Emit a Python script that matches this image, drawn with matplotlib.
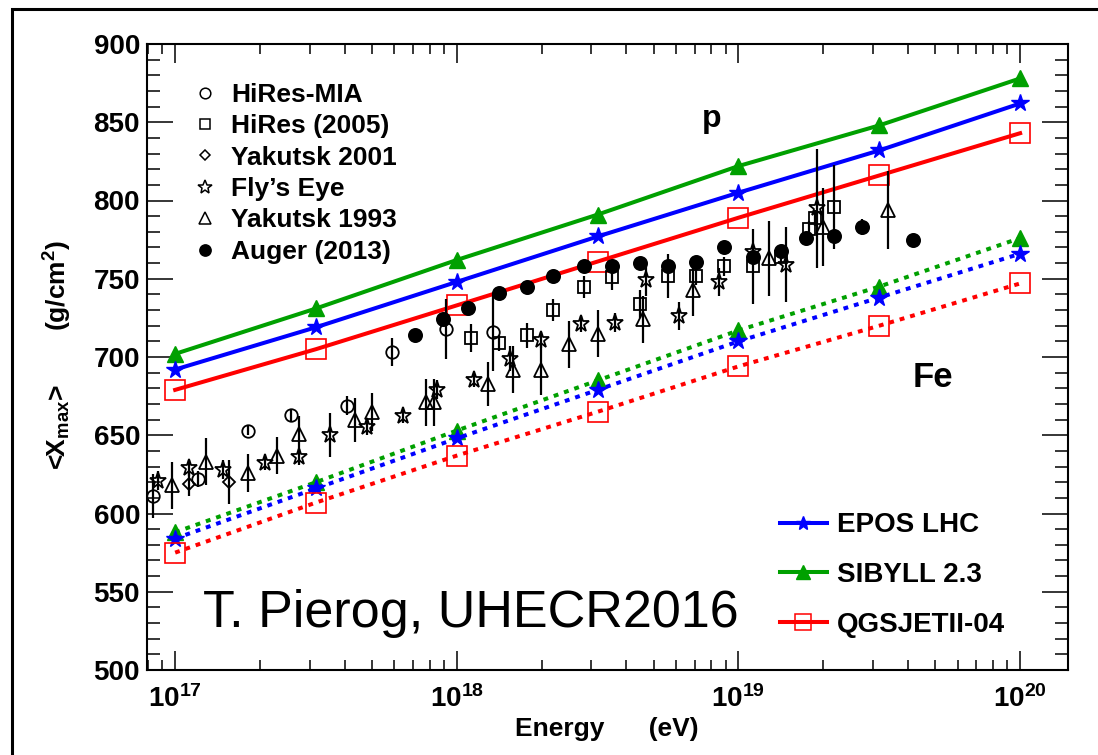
import matplotlib
matplotlib.use("Agg")
import matplotlib.pyplot as plt
import numpy as np
from matplotlib.lines import Line2D
from matplotlib.patches import Rectangle
from matplotlib.ticker import LogLocator, MultipleLocator, NullFormatter

plt.rcParams['font.family'] = ['Liberation Sans', 'DejaVu Sans']
plt.rcParams['mathtext.fontset'] = 'custom'
plt.rcParams['mathtext.rm'] = 'Liberation Sans'
plt.rcParams['mathtext.bf'] = 'Liberation Sans:bold'
plt.rcParams['mathtext.default'] = 'bf'

# model predictions, log10(E/eV)
model_lgE = [17.0, 17.5, 18.0, 18.5, 19.0, 19.5, 20.0]
epos_p = [692, 719, 748, 777, 805, 832, 862]
sibyll_p = [702, 731, 762, 791, 822, 848, 878]
qgsjet_p = [679, 705, 733, 761, 789, 816, 843]
epos_fe = [584, 616, 648, 679, 710, 738, 766]
sibyll_fe = [588, 620, 653, 685, 717, 745, 776]
qgsjet_fe = [575, 607, 637, 665, 694, 720, 747]

# measurements: log10(E/eV), <Xmax>, error
hiresmia_lgE = [16.92, 17.08, 17.26, 17.41, 17.61, 17.77, 17.96, 18.13]
hiresmia_x = [611, 622, 653, 663, 669, 703, 718, 716]
hiresmia_err = [14, 5, 3, 4, 6, 9, 19, 25]

hires_lgE = [18.05, 18.15, 18.25, 18.34, 18.45, 18.55, 18.65, 18.75, 18.85, 18.95,
             19.05, 19.15, 19.25, 19.27, 19.34]
hires_x = [712, 709, 714, 730, 745, 751, 734, 752, 752, 758, 758, 764, 782, 789, 796]
hires_err = [9, 5, 8, 7, 7, 8, 9, 14, 6, 6, 24, 4, 5, 5, 27]

yak01_lgE = [17.05, 17.19]
yak01_x = [619, 620]
yak01_err = [8, 14]

fly_lgE = [16.94, 17.05, 17.17, 17.32, 17.44, 17.55, 17.68, 17.81, 17.93, 18.06,
           18.19, 18.30, 18.44, 18.56, 18.67, 18.79, 18.93, 19.05, 19.17, 19.28]
fly_x = [621, 629, 628, 632, 636, 650, 655, 662, 679, 685,
         699, 711, 721, 722, 749, 726, 748, 767, 759, 795]
fly_err = [6, 5, 6, 4, 5, 14, 5, 4, 6, 4, 8, 5, 5, 6, 10, 9, 9, 4, 24, 38]

yak93_lgE = [16.99, 17.11, 17.26, 17.36, 17.44, 17.64, 17.70, 17.89, 17.92, 18.11,
             18.20, 18.30, 18.40, 18.50, 18.66, 18.84, 19.11, 19.30, 19.53]
yak93_x = [618, 633, 626, 637, 651, 660, 665, 671, 671, 683,
           692, 692, 708, 715, 724, 743, 763, 783, 794]
yak93_err = [15, 15, 12, 12, 11, 14, 12, 15, 15, 14, 15, 16, 15, 15, 15, 17, 24, 25, 25]

auger_lgE = [17.85, 17.95, 18.04, 18.15, 18.25, 18.34, 18.45, 18.55, 18.65, 18.75,
             18.85, 18.95, 19.05, 19.15, 19.24, 19.34, 19.44, 19.62]
auger_x = [714, 724, 731, 741, 745, 752, 758, 758, 760, 758,
           761, 770, 764, 768, 776, 777, 783, 775]
auger_err = [3, 3, 3, 3, 3, 3, 3, 3, 3, 3, 3, 3, 3, 3, 3, 3, 5, 3]

green = '#00a000'
blue = '#0000ff'
red = '#ff0000'

fig = plt.figure(figsize=(10.98, 7.55), dpi=100)
ax = fig.add_axes([147 / 1098, 1 - 670 / 755, 921 / 1098, 626 / 755])

E = 10 ** np.array(model_lgE)
lw = 2.9
dots = (0, (1.2, 1.5))
ax.plot(E, sibyll_p, color=green, lw=lw, marker='^', ms=11, mec=green, mfc=green)
ax.plot(E, epos_p, color=blue, lw=lw, marker='*', ms=13, mec=blue, mfc=blue)
ax.plot(E, qgsjet_p, color=red, lw=lw, marker='s', ms=15, mec=red, mfc='none', mew=1.2)
ax.plot(E, sibyll_fe, color=green, lw=lw, ls=dots, marker='^', ms=11, mec=green, mfc=green)
ax.plot(E, epos_fe, color=blue, lw=lw, ls=dots, marker='*', ms=13, mec=blue, mfc=blue)
ax.plot(E, qgsjet_fe, color=red, lw=lw, ls=dots, marker='s', ms=15, mec=red, mfc='none', mew=1.2)

data_sets = [
    (hiresmia_lgE, hiresmia_x, hiresmia_err, 'o', 'none', 9),
    (hires_lgE, hires_x, hires_err, 's', 'none', 9),
    (yak01_lgE, yak01_x, yak01_err, 'D', 'none', 6.5),
    (fly_lgE, fly_x, fly_err, '*', 'none', 12.5),
    (yak93_lgE, yak93_x, yak93_err, '^', 'none', 9.5),
    (auger_lgE, auger_x, auger_err, 'o', 'black', 9.5),
]
for lg, xm, er, mk, fc, ms in data_sets:
    ax.errorbar(10 ** np.array(lg), xm, yerr=er, fmt=mk, mfc=fc, mec='black', ms=ms,
                mew=1.3, ecolor='black', elinewidth=1.6, capsize=0, zorder=3)

ax.set_xscale('log')
ax.set_xlim(10 ** 16.9, 10 ** 20.17)
ax.set_ylim(500, 900)

ax.set_xticks([1e17, 1e18, 1e19, 1e20])
ax.set_xticklabels([r'$10^{17}$', r'$10^{18}$', r'$10^{19}$', r'$10^{20}$'])
ax.xaxis.set_minor_locator(LogLocator(base=10, subs=np.arange(2, 10), numticks=20))
ax.xaxis.set_minor_formatter(NullFormatter())
ax.yaxis.set_major_locator(MultipleLocator(50))
ax.yaxis.set_minor_locator(MultipleLocator(10))

ax.tick_params(axis='both', which='both', direction='in', top=True, right=True, width=1.1)
ax.tick_params(axis='x', which='major', length=14, pad=11, labelsize=20)
ax.tick_params(axis='x', which='minor', length=7)
ax.tick_params(axis='y', which='major', length=19, pad=5, labelsize=20)
ax.tick_params(axis='y', which='minor', length=9.5)
for lab in ax.get_xticklabels() + ax.get_yticklabels():
    lab.set_fontweight('bold')
for sp in ax.spines.values():
    sp.set_linewidth(1.5)

# data legend
data_handles = [Line2D([], [], ls='none', marker=mk, mfc=fc, mec='black', ms=ms * 0.85, mew=1.1)
                for _, _, _, mk, fc, ms in data_sets]
data_labels = ['HiRes-MIA', 'HiRes (2005)', 'Yakutsk 2001', "Fly\u2019s Eye", 'Yakutsk 1993', 'Auger (2013)']
leg1 = ax.legend(data_handles, data_labels, loc='upper left', bbox_to_anchor=(0.0516, 0.938),
                 frameon=False, borderpad=0, borderaxespad=0, handlelength=0.8,
                 handletextpad=0.6, labelspacing=0.28, prop={'size': 19, 'weight': 'bold'})
ax.add_artist(leg1)

model_handles = [
    Line2D([], [], color=blue, lw=lw, marker='*', ms=10, mec=blue, mfc=blue),
    Line2D([], [], color=green, lw=lw, marker='^', ms=10, mec=green, mfc=green),
    Line2D([], [], color=red, lw=lw, marker='s', ms=12, mec=red, mfc='none', mew=1.1),
]
ax.legend(model_handles, ['EPOS LHC', 'SIBYLL 2.3', 'QGSJETII-04'], loc='upper left',
          bbox_to_anchor=(0.687, 0.252), frameon=False, borderpad=0, borderaxespad=0,
          handlelength=1.69, handletextpad=0.36, labelspacing=0.86,
          prop={'size': 20, 'weight': 'bold'})

ax.text(0.6026, 0.867, 'p', transform=ax.transAxes, fontsize=23, fontweight='bold', va='baseline')
ax.text(0.8317, 0.452, 'Fe', transform=ax.transAxes, fontsize=25, fontweight='bold', va='baseline')
ax.text(0.0608, 0.0687, 'T. Pierog, UHECR2016', transform=ax.transAxes, fontsize=37.5, va='baseline')

fig.text(59 / 1098, 1 - 427 / 755, r'<X$_{max}$>', rotation=90, ha='center', va='center',
         fontsize=19, fontweight='bold')
fig.text(58 / 1098, 1 - 285 / 755, r'(g/cm$^{2}$)', rotation=90, ha='center', va='center',
         fontsize=19, fontweight='bold')
fig.text(607 / 1098, 1 - 729 / 755, 'Energy      (eV)', ha='center', va='center',
         fontsize=19, fontweight='bold')

# outer frame
fig.patches.append(Rectangle((12 / 1098, -0.05), 1.2, 1.05 - 8.5 / 755, transform=fig.transFigure,
                             fill=False, lw=2.2, ec='black'))

fig.savefig('out.png', dpi=100)
